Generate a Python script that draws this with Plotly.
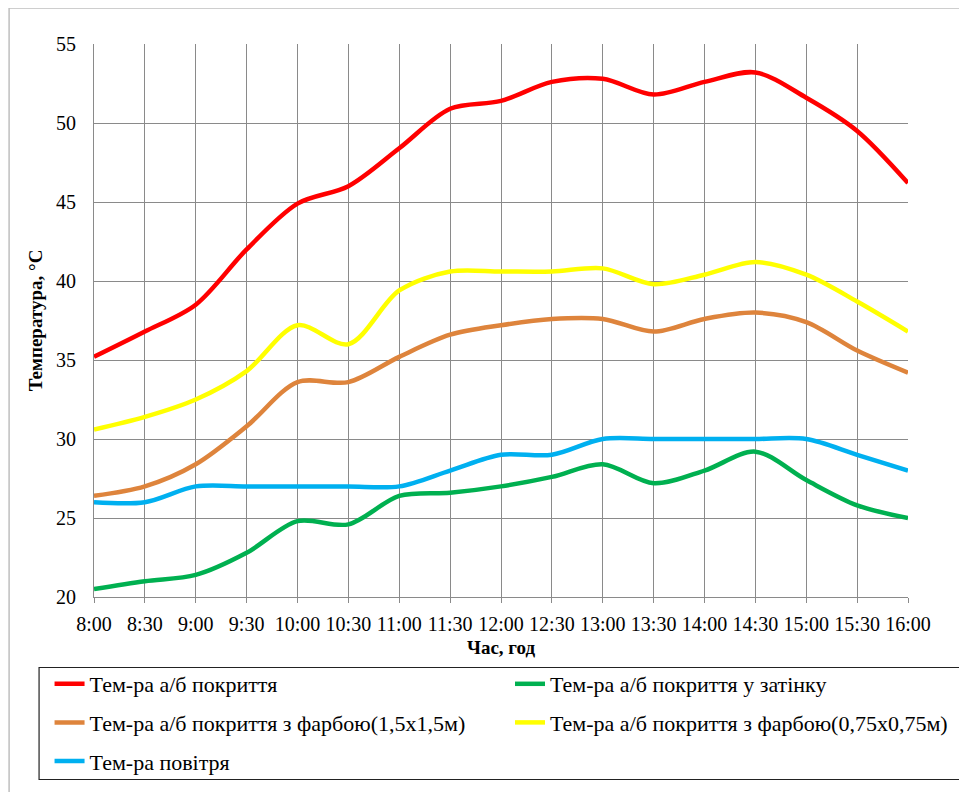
import plotly.graph_objects as go

times = ["8:00", "8:30", "9:00", "9:30", "10:00", "10:30", "11:00", "11:30", "12:00",
         "12:30", "13:00", "13:30", "14:00", "14:30", "15:00", "15:30", "16:00"]

t_red = [35.2, 36.8, 38.5, 42.0, 44.9, 46.0, 48.4, 50.9, 51.4, 52.6, 52.8, 51.8, 52.6, 53.2, 51.6, 49.5, 46.2]
t_green = [20.5, 21.0, 21.4, 22.8, 24.8, 24.6, 26.4, 26.6, 27.0, 27.6, 28.4, 27.2, 28.0, 29.2, 27.4, 25.8, 25.0]
t_orange = [26.4, 27.0, 28.4, 30.8, 33.6, 33.6, 35.2, 36.6, 37.2, 37.6, 37.6, 36.8, 37.6, 38.0, 37.4, 35.6, 34.2]
t_yellow = [30.6, 31.4, 32.5, 34.3, 37.2, 36.0, 39.4, 40.6, 40.6, 40.6, 40.8, 39.8, 40.4, 41.2, 40.4, 38.7, 36.8]
t_blue = [26.0, 26.0, 27.0, 27.0, 27.0, 27.0, 27.0, 28.0, 29.0, 29.0, 30.0, 30.0, 30.0, 30.0, 30.0, 29.0, 28.0]

y_ticks = [20, 25, 30, 35, 40, 45, 50, 55]

names = {
    "red": "Тем-ра а/б покриття",
    "green": "Тем-ра а/б покриття у затінку",
    "orange": "Тем-ра а/б покриття з фарбою(1,5х1,5м)",
    "yellow": "Тем-ра а/б покриття з фарбою(0,75х0,75м)",
    "blue": "Тем-ра повітря",
}
colors = {"red": "#FF0000", "green": "#00B050", "orange": "#DE843C",
          "yellow": "#FFFF00", "blue": "#00B0F0"}

FONT = "Liberation Serif, Tinos, Times New Roman, DejaVu Serif, serif"

OFF = 8  # page body margin
W, H = 959, 784
L, T = 93.5 - OFF, 44 - OFF
R = W - (908.5 - OFF)
B = H - (597 - OFF)
pw, ph = W - L - R, H - T - B

def px_x(page_px):
    return (page_px - OFF - L) / pw

def px_y(page_py):
    return (H - B - (page_py - OFF)) / ph

fig = go.Figure()
series = [("red", t_red, "legend"), ("green", t_green, "legend2"),
          ("orange", t_orange, "legend"), ("yellow", t_yellow, "legend2"),
          ("blue", t_blue, "legend")]
for key, vals, leg in series:
    fig.add_trace(go.Scatter(
        x=list(range(len(times))), y=vals, mode="lines", name=names[key],
        line=dict(color=colors[key], width=4.5, shape="spline", smoothing=0.9),
        legend=leg, legendgroup=key,
    ))

fig.update_layout(
    width=W, height=H,
    margin=dict(l=L, r=R, t=T, b=B, autoexpand=False),
    paper_bgcolor="white", plot_bgcolor="white",
    font=dict(family=FONT, color="black"),
    showlegend=True,
    legend=dict(x=px_x(49), y=px_y(663), xanchor="left", yanchor="top",
                font=dict(size=22, family=FONT), bgcolor="rgba(0,0,0,0)",
                borderwidth=0, tracegroupgap=7, itemwidth=30),
    legend2=dict(x=px_x(510), y=px_y(663), xanchor="left", yanchor="top",
                 font=dict(size=22, family=FONT), bgcolor="rgba(0,0,0,0)",
                 borderwidth=0, tracegroupgap=7, itemwidth=30),
    xaxis=dict(
        range=[0, len(times) - 1], tickmode="array",
        tickvals=list(range(len(times))), ticktext=times,
        showgrid=True, gridcolor="#8A8A8A", gridwidth=1,
        showline=True, linecolor="#8A8A8A", linewidth=1,
        ticks="outside", ticklen=5, tickcolor="#8A8A8A",
        tickfont=dict(size=20, family=FONT), ticklabelstandoff=4,
        zeroline=False,
        title=dict(text="<b>Час, год</b>", font=dict(size=19, family=FONT), standoff=6),
    ),
    yaxis=dict(
        range=[20, 55], tickmode="array", tickvals=y_ticks,
        showgrid=True, gridcolor="#8A8A8A", gridwidth=1,
        showline=True, linecolor="#8A8A8A", linewidth=1,
        ticks="", tickfont=dict(size=20, family=FONT), ticklabelstandoff=13,
        zeroline=False, mirror=False,
        title=dict(text="<b>Температура, °С</b>", font=dict(size=19, family=FONT), standoff=8),
    ),
    shapes=[
        dict(type="rect", xref="paper", yref="paper",
             x0=px_x(8.5), x1=px_x(990), y0=px_y(810), y1=px_y(8),
             line=dict(color="#BFBFBF", width=1.5), layer="below"),
        dict(type="rect", xref="paper", yref="paper",
             x0=px_x(38.5), x1=px_x(961.5), y0=px_y(779.5), y1=px_y(667.5),
             line=dict(color="#222222", width=1.2), layer="above"),
    ],
)

fig.write_html("out.html")
